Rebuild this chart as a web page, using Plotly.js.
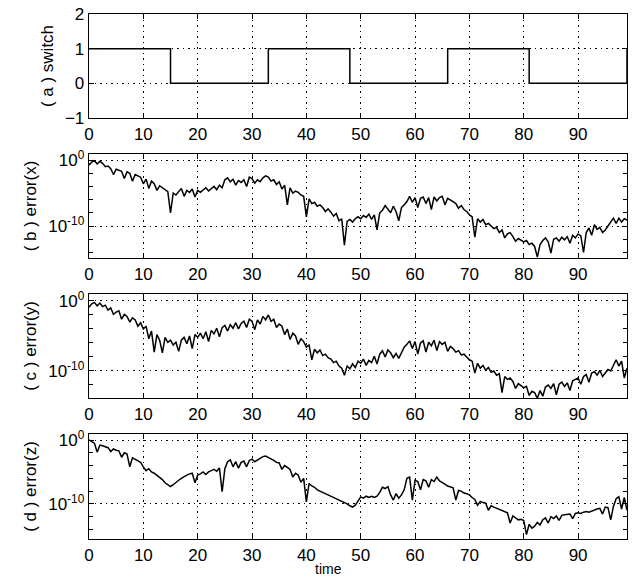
<!DOCTYPE html>
<html>
<head>
<meta charset="utf-8">
<script src="https://cdn.plot.ly/plotly-3.0.1.min.js"></script>
<style>html,body{margin:0;padding:0;background:#fff;}#chart{width:637px;height:578px;}</style>
</head>
<body>
<div id="chart"></div>
<script>
// ---- data ----
const switchTime = [0, 15, 33, 48, 66, 81, 99];
const switchValue = [1, 0, 1, 0, 1, 0, 1];

const time = [
  0,0.5,1,1.5,2,2.5,3,3.5,4,4.5,
  5,5.5,6,6.5,7,7.5,8,8.5,9,9.5,
  10,10.5,11,11.5,12,12.5,13,13.5,14,14.5,
  15,15.5,16,16.5,17,17.5,18,18.5,19,19.5,
  20,20.5,21,21.5,22,22.5,23,23.5,24,24.5,
  25,25.5,26,26.5,27,27.5,28,28.5,29,29.5,
  30,30.5,31,31.5,32,32.5,33,33.5,34,34.5,
  35,35.5,36,36.5,37,37.5,38,38.5,39,39.5,
  40,40.5,41,41.5,42,42.5,43,43.5,44,44.5,
  45,45.5,46,46.5,47,47.5,48,48.5,49,49.5,
  50,50.5,51,51.5,52,52.5,53,53.5,54,54.5,
  55,55.5,56,56.5,57,57.5,58,58.5,59,59.5,
  60,60.5,61,61.5,62,62.5,63,63.5,64,64.5,
  65,65.5,66,66.5,67,67.5,68,68.5,69,69.5,
  70,70.5,71,71.5,72,72.5,73,73.5,74,74.5,
  75,75.5,76,76.5,77,77.5,78,78.5,79,79.5,
  80,80.5,81,81.5,82,82.5,83,83.5,84,84.5,
  85,85.5,86,86.5,87,87.5,88,88.5,89,89.5,
  90,90.5,91,91.5,92,92.5,93,93.5,94,94.5,
  95,95.5,96,96.5,97,97.5,98,98.5,99
];

// log10 of the errors
const errXExp = [
  -0.8,-0.3,-0.1,-0.6,-0.2,-0.5,-1.0,-0.9,-1.3,-2.2,
  -1.4,-1.6,-1.7,-2.8,-1.8,-2.0,-3.2,-2.2,-2.4,-2.6,
  -3.6,-2.9,-4.3,-3.2,-3.6,-4.6,-3.9,-4.2,-4.6,-4.8,
  -8.0,-5.0,-5.3,-4.8,-4.3,-5.5,-4.6,-4.9,-4.4,-5.6,
  -4.6,-4.9,-4.5,-4.2,-4.7,-4.4,-4.0,-4.5,-3.8,-4.2,
  -3.0,-2.7,-3.3,-2.9,-3.8,-3.1,-3.4,-3.0,-4.0,-2.6,
  -2.8,-3.5,-3.0,-3.3,-2.7,-2.4,-2.6,-3.2,-3.0,-3.7,
  -3.3,-4.4,-3.8,-6.8,-4.2,-5.0,-4.7,-4.9,-5.3,-5.5,
  -8.6,-5.9,-6.6,-6.4,-7.0,-6.8,-7.2,-7.8,-7.4,-7.9,
  -8.5,-8.1,-9.2,-8.9,-12.9,-9.3,-9.0,-9.4,-8.9,-8.6,
  -8.9,-8.4,-8.7,-8.2,-9.0,-8.3,-10.6,-8.0,-7.6,-6.9,
  -7.5,-8.0,-7.0,-7.8,-9.2,-7.2,-6.8,-6.3,-5.5,-6.4,
  -5.7,-7.2,-5.8,-5.6,-6.6,-5.7,-7.5,-5.6,-6.2,-5.7,
  -5.5,-6.8,-5.8,-6.0,-6.3,-6.6,-7.3,-6.9,-7.5,-7.8,
  -8.3,-8.6,-11.7,-8.9,-9.4,-9.0,-9.8,-9.6,-10.0,-10.4,
  -10.2,-11.0,-10.6,-11.8,-11.2,-11.0,-11.6,-12.3,-11.9,-12.1,
  -12.4,-12.2,-12.8,-12.6,-13.1,-14.7,-12.8,-12.2,-11.8,-12.4,
  -14.1,-12.0,-11.8,-12.3,-11.7,-12.1,-11.6,-12.6,-11.4,-11.8,
  -11.2,-11.5,-14.0,-11.0,-10.3,-11.4,-9.8,-10.5,-10.2,-11.0,
  -10.6,-10.0,-9.4,-8.8,-9.6,-8.8,-9.4,-8.9,-9.1
];
const errYExp = [
  -0.9,-0.4,-0.2,-0.7,-0.3,-0.8,-0.6,-1.3,-1.0,-1.9,
  -1.6,-1.4,-2.6,-1.9,-2.2,-3.0,-2.4,-2.7,-3.6,-3.1,
  -4.0,-3.6,-5.4,-4.3,-7.3,-4.8,-5.6,-7.4,-5.2,-5.9,
  -5.6,-6.3,-5.9,-7.2,-5.6,-5.2,-6.1,-5.0,-6.8,-4.8,
  -5.2,-4.6,-5.4,-4.4,-5.8,-4.2,-4.7,-3.9,-5.1,-3.8,
  -3.5,-4.3,-3.4,-3.9,-3.1,-4.0,-3.2,-2.9,-3.8,-2.6,
  -2.9,-4.1,-2.7,-3.3,-2.2,-2.7,-2.0,-2.9,-2.6,-3.8,
  -3.3,-3.6,-4.8,-4.0,-5.5,-4.6,-5.0,-6.2,-5.4,-5.8,
  -6.6,-6.3,-8.4,-6.9,-7.4,-7.0,-7.8,-7.6,-8.1,-8.3,
  -8.8,-8.6,-9.3,-9.6,-10.6,-9.3,-9.7,-9.0,-9.5,-8.6,
  -8.9,-8.3,-9.2,-8.5,-8.8,-7.9,-9.0,-7.6,-7.1,-8.0,
  -7.0,-7.4,-8.1,-7.5,-8.2,-7.3,-6.6,-6.2,-5.7,-6.8,
  -5.8,-7.6,-6.0,-5.7,-7.3,-5.9,-6.4,-5.6,-7.1,-5.8,
  -6.2,-5.9,-7.2,-6.5,-6.8,-7.3,-7.1,-7.7,-7.6,-8.0,
  -8.4,-8.6,-10.3,-8.9,-9.6,-9.2,-9.9,-9.5,-10.2,-10.0,
  -10.6,-10.4,-13.1,-10.8,-11.2,-11.0,-11.5,-12.5,-11.8,-12.1,
  -12.4,-12.2,-13.5,-12.9,-13.1,-13.9,-12.8,-13.6,-12.3,-12.0,
  -12.5,-11.8,-13.4,-11.9,-11.6,-12.2,-11.7,-12.8,-11.4,-11.2,
  -11.0,-11.9,-10.8,-10.5,-11.6,-10.3,-10.1,-10.6,-9.9,-10.8,
  -10.3,-9.8,-10.0,-9.2,-8.4,-9.3,-8.6,-11.0,-9.6
];
const errZExp = [
  0.0,-0.3,-0.5,-1.9,-0.8,-0.9,-1.1,-1.2,-1.8,-1.4,
  -1.6,-1.7,-2.7,-2.0,-2.2,-4.2,-2.8,-3.0,-3.3,-3.5,
  -4.2,-4.8,-4.5,-5.0,-5.2,-5.5,-5.8,-6.2,-6.7,-7.0,
  -7.3,-7.0,-6.6,-6.3,-6.0,-5.7,-5.5,-5.3,-5.2,-6.7,
  -5.5,-5.3,-5.0,-5.4,-5.0,-4.8,-4.6,-4.9,-4.4,-8.1,
  -4.5,-3.4,-3.1,-4.2,-3.4,-4.4,-3.5,-3.3,-4.2,-3.2,
  -3.0,-3.4,-3.1,-2.9,-2.6,-2.5,-2.7,-3.0,-3.2,-3.5,
  -3.6,-4.6,-4.0,-4.3,-4.6,-5.8,-5.2,-5.5,-6.6,-6.0,
  -9.7,-6.8,-7.2,-7.4,-7.8,-8.0,-8.2,-8.4,-8.6,-8.8,
  -8.9,-9.2,-9.4,-9.6,-9.7,-10.0,-10.3,-10.5,-10.2,-9.5,
  -8.9,-9.1,-8.8,-9.0,-8.8,-9.0,-8.8,-8.2,-7.4,-7.6,
  -7.3,-8.6,-9.4,-8.4,-9.1,-8.6,-7.8,-6.0,-5.8,-9.4,
  -6.3,-6.5,-7.8,-6.2,-6.4,-7.4,-6.2,-6.5,-5.8,-6.4,
  -6.6,-6.9,-7.2,-7.3,-7.5,-9.4,-7.9,-8.0,-8.3,-8.4,
  -8.6,-9.0,-9.3,-10.2,-9.6,-9.8,-9.9,-11.0,-10.3,-10.5,
  -10.7,-10.9,-11.1,-11.3,-11.4,-13.0,-11.9,-12.2,-12.5,-12.4,
  -12.6,-14.8,-13.2,-13.8,-13.5,-12.9,-13.3,-12.5,-12.2,-13.0,
  -12.0,-12.3,-11.9,-12.6,-11.8,-11.7,-11.7,-11.6,-12.3,-11.5,
  -11.4,-11.5,-11.3,-11.2,-11.3,-11.1,-11.0,-10.8,-10.7,-11.6,
  -10.5,-10.6,-12.5,-10.4,-9.2,-8.9,-10.8,-9.0,-11.0
];

const xTicks = [0, 10, 20, 30, 40, 50, 60, 70, 80, 90];
const switchTicks = [-1, 0, 1, 2];
const logTicks = [1, 1e-10];
const logTickText = ['10<sup>0</sup>', '10<sup>-10</sup>'];
const logMinorTicks = [1e-2, 1e-4, 1e-6, 1e-8, 1e-12, 1e-14];
const panelTitles = ['( a ) switch', '( b ) error(x)', '( c ) error(y)', '( d ) error(z)'];

// ---- chart ----
const toVal = a => a.map(e => Math.pow(10, e));
const lineStyle = {color: '#000', width: 1.5};

const traces = [
  {x: switchTime, y: switchValue, mode: 'lines', line: Object.assign({shape: 'hv'}, lineStyle), xaxis: 'x', yaxis: 'y'},
  {x: time, y: toVal(errXExp), mode: 'lines', line: lineStyle, xaxis: 'x2', yaxis: 'y2'},
  {x: time, y: toVal(errYExp), mode: 'lines', line: lineStyle, xaxis: 'x3', yaxis: 'y3'},
  {x: time, y: toVal(errZExp), mode: 'lines', line: lineStyle, xaxis: 'x4', yaxis: 'y4'}
];

const FONT = 'Liberation Sans, Arial, sans-serif';
const tickFont = {family: FONT, size: 17, color: '#000'};
const gridDash = '1.5px,4px';

function xAx(anchor) {
  return {
    anchor: anchor, domain: [0, 1], range: [0, 99],
    tickmode: 'array', tickvals: xTicks,
    ticks: 'inside', ticklen: 5, tickwidth: 1, tickcolor: '#000',
    showline: true, linecolor: '#000', linewidth: 1.3, mirror: 'ticks',
    showgrid: true, gridcolor: '#000', gridwidth: 1, griddash: gridDash,
    zeroline: false, tickfont: tickFont
  };
}
function yAx(domain, title) {
  return {
    domain: domain,
    ticks: 'inside', ticklen: 5, tickwidth: 1, tickcolor: '#000',
    showline: true, linecolor: '#000', linewidth: 1.3, mirror: 'ticks',
    showgrid: true, gridcolor: '#000', gridwidth: 1, griddash: gridDash,
    zeroline: false, tickfont: tickFont,
    title: {text: title, font: {family: FONT, size: 17, color: '#000'}, standoff: 7}
  };
}

const ya = Object.assign(yAx([0.8019, 1], panelTitles[0]), {anchor: 'x', range: [-1, 2], tickmode: 'array', tickvals: switchTicks, ticktext: ['\u22121', '0', '1', '2']});
function logAx(domain, title, anchor, range) {
  return Object.assign(yAx(domain, title), {
    anchor: anchor, type: 'log', range: range,
    tickmode: 'array', tickvals: logTicks, ticktext: logTickText,
    minor: {tickmode: 'array', tickvals: logMinorTicks, ticks: 'inside', ticklen: 4, tickcolor: '#000', showgrid: false}
  });
}

const layout = {
  width: 637, height: 578,
  margin: {l: 89, r: 10, t: 14, b: 39},
  paper_bgcolor: '#fff', plot_bgcolor: '#fff',
  showlegend: false,
  xaxis: xAx('y'),
  xaxis2: xAx('y2'),
  xaxis3: xAx('y3'),
  xaxis4: xAx('y4'),
  yaxis: ya,
  yaxis2: logAx([0.5352, 0.7333], panelTitles[1], 'x2', [-14.85, 0.91]),
  yaxis3: logAx([0.2686, 0.4667], panelTitles[2], 'x3', [-13.86, 1.0]),
  yaxis4: logAx([0, 0.2], panelTitles[3], 'x4', [-15.5, 0.94]),
  annotations: [{
    text: 'time', xref: 'paper', yref: 'paper',
    x: (328 - 89) / (637 - 89 - 10), y: -0.0575,
    xanchor: 'center', yanchor: 'middle', showarrow: false,
    font: {family: FONT, size: 14, color: '#000'}
  }]
};

Plotly.newPlot('chart', traces, layout, {staticPlot: true, displayModeBar: false});
</script>
</body>
</html>
